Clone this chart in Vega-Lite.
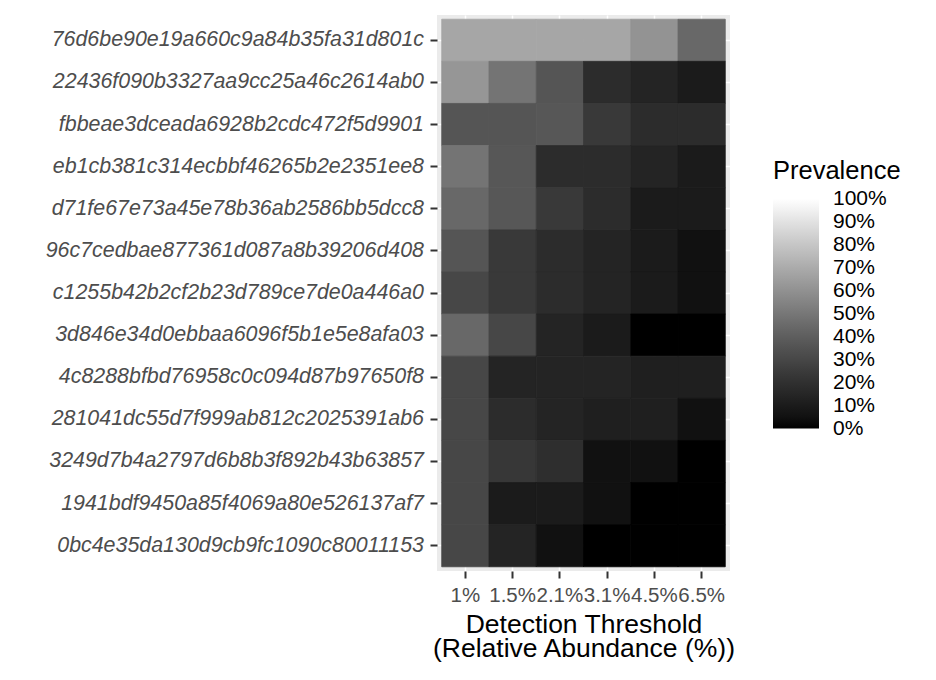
{
  "$schema": "https://vega.github.io/schema/vega-lite/v6.json",
  "width": 293,
  "height": 556,
  "autosize": "none",
  "padding": {"left": 437, "top": 15, "right": 206, "bottom": 109},
  "background": "white",
  "config": {
    "font": "Liberation Sans",
    "view": {"fill": "#EBEBEB", "stroke": null}
  },
  "data": {
    "values": [
      {"taxon": "76d6be90e19a660c9a84b35fa31d801c", "threshold": "1%", "prevalence": 0.68},
      {"taxon": "76d6be90e19a660c9a84b35fa31d801c", "threshold": "1.5%", "prevalence": 0.68},
      {"taxon": "76d6be90e19a660c9a84b35fa31d801c", "threshold": "2.1%", "prevalence": 0.68},
      {"taxon": "76d6be90e19a660c9a84b35fa31d801c", "threshold": "3.1%", "prevalence": 0.68},
      {"taxon": "76d6be90e19a660c9a84b35fa31d801c", "threshold": "4.5%", "prevalence": 0.61},
      {"taxon": "76d6be90e19a660c9a84b35fa31d801c", "threshold": "6.5%", "prevalence": 0.44},
      {"taxon": "22436f090b3327aa9cc25a46c2614ab0", "threshold": "1%", "prevalence": 0.62},
      {"taxon": "22436f090b3327aa9cc25a46c2614ab0", "threshold": "1.5%", "prevalence": 0.49},
      {"taxon": "22436f090b3327aa9cc25a46c2614ab0", "threshold": "2.1%", "prevalence": 0.36},
      {"taxon": "22436f090b3327aa9cc25a46c2614ab0", "threshold": "3.1%", "prevalence": 0.18},
      {"taxon": "22436f090b3327aa9cc25a46c2614ab0", "threshold": "4.5%", "prevalence": 0.14},
      {"taxon": "22436f090b3327aa9cc25a46c2614ab0", "threshold": "6.5%", "prevalence": 0.10},
      {"taxon": "fbbeae3dceada6928b2cdc472f5d9901", "threshold": "1%", "prevalence": 0.36},
      {"taxon": "fbbeae3dceada6928b2cdc472f5d9901", "threshold": "1.5%", "prevalence": 0.36},
      {"taxon": "fbbeae3dceada6928b2cdc472f5d9901", "threshold": "2.1%", "prevalence": 0.37},
      {"taxon": "fbbeae3dceada6928b2cdc472f5d9901", "threshold": "3.1%", "prevalence": 0.24},
      {"taxon": "fbbeae3dceada6928b2cdc472f5d9901", "threshold": "4.5%", "prevalence": 0.18},
      {"taxon": "fbbeae3dceada6928b2cdc472f5d9901", "threshold": "6.5%", "prevalence": 0.18},
      {"taxon": "eb1cb381c314ecbbf46265b2e2351ee8", "threshold": "1%", "prevalence": 0.49},
      {"taxon": "eb1cb381c314ecbbf46265b2e2351ee8", "threshold": "1.5%", "prevalence": 0.37},
      {"taxon": "eb1cb381c314ecbbf46265b2e2351ee8", "threshold": "2.1%", "prevalence": 0.18},
      {"taxon": "eb1cb381c314ecbbf46265b2e2351ee8", "threshold": "3.1%", "prevalence": 0.18},
      {"taxon": "eb1cb381c314ecbbf46265b2e2351ee8", "threshold": "4.5%", "prevalence": 0.14},
      {"taxon": "eb1cb381c314ecbbf46265b2e2351ee8", "threshold": "6.5%", "prevalence": 0.10},
      {"taxon": "d71fe67e73a45e78b36ab2586bb5dcc8", "threshold": "1%", "prevalence": 0.44},
      {"taxon": "d71fe67e73a45e78b36ab2586bb5dcc8", "threshold": "1.5%", "prevalence": 0.37},
      {"taxon": "d71fe67e73a45e78b36ab2586bb5dcc8", "threshold": "2.1%", "prevalence": 0.24},
      {"taxon": "d71fe67e73a45e78b36ab2586bb5dcc8", "threshold": "3.1%", "prevalence": 0.18},
      {"taxon": "d71fe67e73a45e78b36ab2586bb5dcc8", "threshold": "4.5%", "prevalence": 0.10},
      {"taxon": "d71fe67e73a45e78b36ab2586bb5dcc8", "threshold": "6.5%", "prevalence": 0.10},
      {"taxon": "96c7cedbae877361d087a8b39206d408", "threshold": "1%", "prevalence": 0.36},
      {"taxon": "96c7cedbae877361d087a8b39206d408", "threshold": "1.5%", "prevalence": 0.24},
      {"taxon": "96c7cedbae877361d087a8b39206d408", "threshold": "2.1%", "prevalence": 0.18},
      {"taxon": "96c7cedbae877361d087a8b39206d408", "threshold": "3.1%", "prevalence": 0.14},
      {"taxon": "96c7cedbae877361d087a8b39206d408", "threshold": "4.5%", "prevalence": 0.10},
      {"taxon": "96c7cedbae877361d087a8b39206d408", "threshold": "6.5%", "prevalence": 0.05},
      {"taxon": "c1255b42b2cf2b23d789ce7de0a446a0", "threshold": "1%", "prevalence": 0.30},
      {"taxon": "c1255b42b2cf2b23d789ce7de0a446a0", "threshold": "1.5%", "prevalence": 0.24},
      {"taxon": "c1255b42b2cf2b23d789ce7de0a446a0", "threshold": "2.1%", "prevalence": 0.18},
      {"taxon": "c1255b42b2cf2b23d789ce7de0a446a0", "threshold": "3.1%", "prevalence": 0.14},
      {"taxon": "c1255b42b2cf2b23d789ce7de0a446a0", "threshold": "4.5%", "prevalence": 0.10},
      {"taxon": "c1255b42b2cf2b23d789ce7de0a446a0", "threshold": "6.5%", "prevalence": 0.05},
      {"taxon": "3d846e34d0ebbaa6096f5b1e5e8afa03", "threshold": "1%", "prevalence": 0.44},
      {"taxon": "3d846e34d0ebbaa6096f5b1e5e8afa03", "threshold": "1.5%", "prevalence": 0.30},
      {"taxon": "3d846e34d0ebbaa6096f5b1e5e8afa03", "threshold": "2.1%", "prevalence": 0.14},
      {"taxon": "3d846e34d0ebbaa6096f5b1e5e8afa03", "threshold": "3.1%", "prevalence": 0.10},
      {"taxon": "3d846e34d0ebbaa6096f5b1e5e8afa03", "threshold": "4.5%", "prevalence": 0.0},
      {"taxon": "3d846e34d0ebbaa6096f5b1e5e8afa03", "threshold": "6.5%", "prevalence": 0.0},
      {"taxon": "4c8288bfbd76958c0c094d87b97650f8", "threshold": "1%", "prevalence": 0.30},
      {"taxon": "4c8288bfbd76958c0c094d87b97650f8", "threshold": "1.5%", "prevalence": 0.14},
      {"taxon": "4c8288bfbd76958c0c094d87b97650f8", "threshold": "2.1%", "prevalence": 0.14},
      {"taxon": "4c8288bfbd76958c0c094d87b97650f8", "threshold": "3.1%", "prevalence": 0.14},
      {"taxon": "4c8288bfbd76958c0c094d87b97650f8", "threshold": "4.5%", "prevalence": 0.12},
      {"taxon": "4c8288bfbd76958c0c094d87b97650f8", "threshold": "6.5%", "prevalence": 0.12},
      {"taxon": "281041dc55d7f999ab812c2025391ab6", "threshold": "1%", "prevalence": 0.30},
      {"taxon": "281041dc55d7f999ab812c2025391ab6", "threshold": "1.5%", "prevalence": 0.18},
      {"taxon": "281041dc55d7f999ab812c2025391ab6", "threshold": "2.1%", "prevalence": 0.14},
      {"taxon": "281041dc55d7f999ab812c2025391ab6", "threshold": "3.1%", "prevalence": 0.12},
      {"taxon": "281041dc55d7f999ab812c2025391ab6", "threshold": "4.5%", "prevalence": 0.12},
      {"taxon": "281041dc55d7f999ab812c2025391ab6", "threshold": "6.5%", "prevalence": 0.05},
      {"taxon": "3249d7b4a2797d6b8b3f892b43b63857", "threshold": "1%", "prevalence": 0.30},
      {"taxon": "3249d7b4a2797d6b8b3f892b43b63857", "threshold": "1.5%", "prevalence": 0.23},
      {"taxon": "3249d7b4a2797d6b8b3f892b43b63857", "threshold": "2.1%", "prevalence": 0.19},
      {"taxon": "3249d7b4a2797d6b8b3f892b43b63857", "threshold": "3.1%", "prevalence": 0.05},
      {"taxon": "3249d7b4a2797d6b8b3f892b43b63857", "threshold": "4.5%", "prevalence": 0.05},
      {"taxon": "3249d7b4a2797d6b8b3f892b43b63857", "threshold": "6.5%", "prevalence": 0.0},
      {"taxon": "1941bdf9450a85f4069a80e526137af7", "threshold": "1%", "prevalence": 0.30},
      {"taxon": "1941bdf9450a85f4069a80e526137af7", "threshold": "1.5%", "prevalence": 0.10},
      {"taxon": "1941bdf9450a85f4069a80e526137af7", "threshold": "2.1%", "prevalence": 0.10},
      {"taxon": "1941bdf9450a85f4069a80e526137af7", "threshold": "3.1%", "prevalence": 0.05},
      {"taxon": "1941bdf9450a85f4069a80e526137af7", "threshold": "4.5%", "prevalence": 0.0},
      {"taxon": "1941bdf9450a85f4069a80e526137af7", "threshold": "6.5%", "prevalence": 0.0},
      {"taxon": "0bc4e35da130d9cb9fc1090c80011153", "threshold": "1%", "prevalence": 0.30},
      {"taxon": "0bc4e35da130d9cb9fc1090c80011153", "threshold": "1.5%", "prevalence": 0.14},
      {"taxon": "0bc4e35da130d9cb9fc1090c80011153", "threshold": "2.1%", "prevalence": 0.05},
      {"taxon": "0bc4e35da130d9cb9fc1090c80011153", "threshold": "3.1%", "prevalence": 0.0},
      {"taxon": "0bc4e35da130d9cb9fc1090c80011153", "threshold": "4.5%", "prevalence": 0.0},
      {"taxon": "0bc4e35da130d9cb9fc1090c80011153", "threshold": "6.5%", "prevalence": 0.0}
    ]
  },
  "mark": {
    "type": "rect",
    "strokeWidth": 0.8,
    "stroke": {"expr": "scale('fill', datum.prevalence)"}
  },
  "encoding": {
    "x": {
      "field": "threshold",
      "type": "ordinal",
      "sort": null,
      "scale": {"paddingInner": 0, "paddingOuter": 0.1},
      "axis": {
        "title": ["Detection Threshold", "(Relative Abundance (%))"],
        "titleFontSize": 26.5,
        "titleFontWeight": "normal",
        "titleColor": "black",
        "titleLineHeight": 24,
        "titlePadding": 6,
        "labelFontSize": 20.5,
        "labelColor": "#4D4D4D",
        "labelAngle": 0,
        "labelPadding": 7,
        "labelOverlap": false,
        "tickSize": 7,
        "tickWidth": 2,
        "tickColor": "#333333",
        "domain": false,
        "grid": true,
        "gridColor": "white",
        "gridWidth": 1.5,
        "bandPosition": 0.5,
        "zindex": 0
      }
    },
    "y": {
      "field": "taxon",
      "type": "nominal",
      "sort": null,
      "scale": {"paddingInner": 0, "paddingOuter": 0.1},
      "axis": {
        "title": null,
        "labelFontSize": 21.4,
        "labelFontStyle": "italic",
        "labelColor": "#4D4D4D",
        "labelPadding": 6.5,
        "labelLimit": 500,
        "tickSize": 7,
        "tickWidth": 2,
        "tickColor": "#333333",
        "domain": false,
        "grid": true,
        "gridColor": "white",
        "gridWidth": 1.5,
        "bandPosition": 0.5,
        "zindex": 0
      }
    },
    "fill": {
      "field": "prevalence",
      "type": "quantitative",
      "scale": {"domain": [0, 1], "range": ["black", "white"], "interpolate": "lab"},
      "legend": {
        "title": "Prevalence",
        "orient": "none",
        "legendX": 336,
        "legendY": 144,
        "direction": "vertical",
        "padding": 0,
        "gradientLength": 230,
        "gradientThickness": 46,
        "gradientStrokeWidth": 0,
        "values": [0, 0.1, 0.2, 0.3, 0.4, 0.5, 0.6, 0.7, 0.8, 0.9, 1],
        "format": ".0%",
        "labelFontSize": 21,
        "labelColor": "black",
        "labelOffset": 14,
        "labelOverlap": false,
        "labelBaseline": "middle",
        "titleFontSize": 25.5,
        "titleFontWeight": "normal",
        "titleColor": "black",
        "titlePadding": 14,
        "encode": {
          "labels": {
            "enter": {"baseline": {"value": "middle"}},
            "update": {"baseline": {"value": "middle"}}
          }
        }
      }
    }
  }
}
